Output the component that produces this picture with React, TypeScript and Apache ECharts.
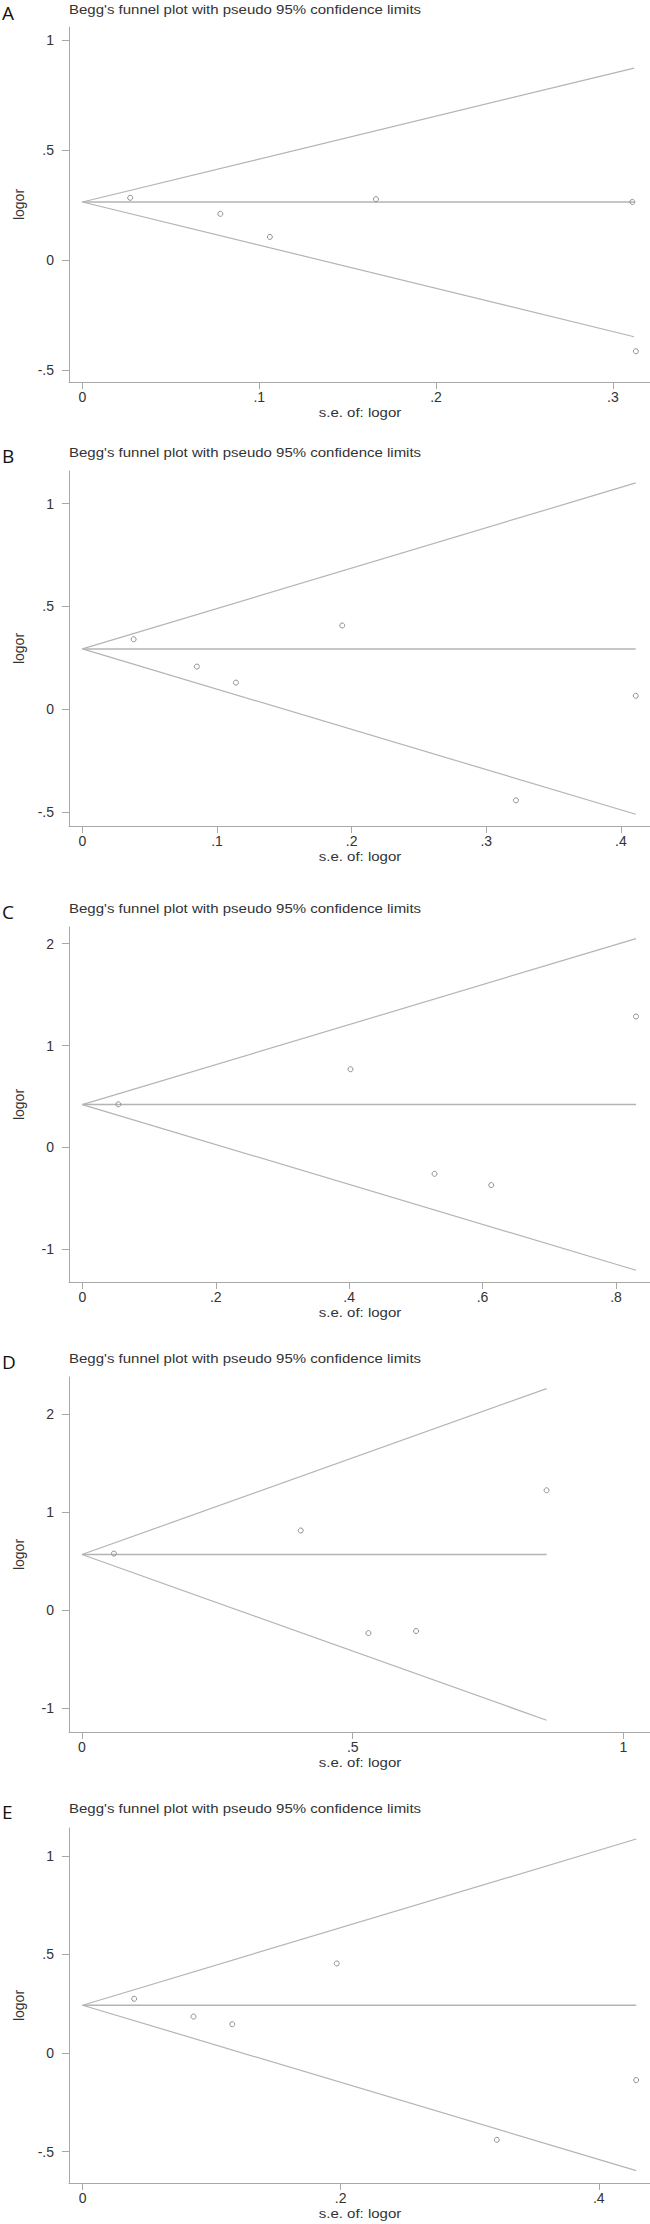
import React, { useEffect, useRef } from "react";
import * as echarts from "echarts";

// ---- Data (5 Begg's funnel plots) ----
const panelLetters = ["A", "B", "C", "D", "E"];
const titleText = "Begg's funnel plot with pseudo 95% confidence limits";
const xAxisTitle = "s.e. of: logor";
const yAxisTitle = "logor";

// study points: standard error and log odds ratio
const seA = [0.027, 0.078, 0.106, 0.166, 0.311, 0.313];
const logorA = [0.283, 0.21, 0.105, 0.277, 0.264, -0.415];
const seB = [0.038, 0.085, 0.114, 0.193, 0.322, 0.411];
const logorB = [0.34, 0.207, 0.129, 0.407, -0.444, 0.065];
const seC = [0.054, 0.402, 0.528, 0.613, 0.83];
const logorC = [0.423, 0.767, -0.259, -0.37, 1.285];
const seD = [0.059, 0.404, 0.529, 0.617, 0.858];
const logorD = [0.577, 0.813, -0.236, -0.215, 1.224];
const seE = [0.04, 0.086, 0.116, 0.197, 0.321, 0.429];
const logorE = [0.275, 0.185, 0.146, 0.454, -0.44, -0.137];

// pooled estimate and pseudo 95% limit ends (at the largest s.e.)
const pooled = [0.264, 0.293, 0.42, 0.567, 0.2425];
const limitSe = [0.312, 0.411, 0.83, 0.858, 0.429];
const upperEnd = [0.873, 1.101, 2.049, 2.264, 1.085];
const lowerEnd = [-0.349, -0.512, -1.206, -1.128, -0.596];

// tick values
const xTicksA = [0, 0.1, 0.2, 0.3];
const xTicksB = [0, 0.1, 0.2, 0.3, 0.4];
const xTicksC = [0, 0.2, 0.4, 0.6, 0.8];
const xTicksD = [0, 0.5, 1];
const xTicksE = [0, 0.2, 0.4];
const yTicksA = [-0.5, 0, 0.5, 1];
const yTicksB = [-0.5, 0, 0.5, 1];
const yTicksC = [-1, 0, 1, 2];
const yTicksD = [-1, 0, 1, 2];
const yTicksE = [-0.5, 0, 0.5, 1];

// axis extents (plot region incl. Stata margins)
const xMins = [-0.0076, -0.01, -0.02, -0.024, -0.0105];
const xMaxs = [0.321, 0.4216, 0.851, 1.049, 0.4397];
const yMins = [-0.555, -0.569, -1.321, -1.248, -0.659];
const yMaxs = [1.06, 1.159, 2.163, 2.383, 1.141];

const seAll = [seA, seB, seC, seD, seE];
const logorAll = [logorA, logorB, logorC, logorD, logorE];
const xTicksAll = [xTicksA, xTicksB, xTicksC, xTicksD, xTicksE];
const yTicksAll = [yTicksA, yTicksB, yTicksC, yTicksD, yTicksE];

// layout
const gridTops = [27, 471, 927, 1377, 1828];
const gridHeight = 355;
const titleYs = [10, 453, 909, 1359, 1809];

const LINE = "#b4b4b4";
const AXIS = "#a8a8a8";
const TEXT = "#333333";
const FONT = "Liberation Sans, Arial, sans-serif";

function fmt(v: number): string {
  if (v === 0) return "0";
  const a = Math.abs(v);
  let s = String(Math.round(a * 1000) / 1000);
  if (s.startsWith("0.")) s = s.slice(1);
  return (v < 0 ? "-" : "") + s;
}

export default function App() {
  const ref = useRef<HTMLDivElement>(null);
  useEffect(() => {
    document.body.style.margin = "0";
    if (!ref.current) return;
    const chart = echarts.init(ref.current, undefined, { renderer: "svg" });

    const grids: any[] = [];
    const xAxes: any[] = [];
    const yAxes: any[] = [];
    const series: any[] = [];
    const graphics: any[] = [];

    for (let i = 0; i < 5; i++) {
      grids.push({ left: 69, right: 0, top: gridTops[i], height: gridHeight, containLabel: false });
      xAxes.push({
        type: "value",
        gridIndex: i,
        min: xMins[i],
        max: xMaxs[i],
        axisLine: { show: true, onZero: false, lineStyle: { color: AXIS, width: 1 } },
        axisTick: { show: true, length: 7, customValues: xTicksAll[i], lineStyle: { color: AXIS } },
        axisLabel: {
          show: true,
          customValues: xTicksAll[i],
          formatter: (v: number) => fmt(v),
          color: TEXT,
          fontSize: 14,
          fontFamily: FONT,
          margin: 8,
        },
        splitLine: { show: false },
      });
      yAxes.push({
        type: "value",
        gridIndex: i,
        min: yMins[i],
        max: yMaxs[i],
        name: yAxisTitle,
        nameLocation: "middle",
        nameGap: 43,
        nameTextStyle: { color: TEXT, fontSize: 14, fontFamily: FONT },
        axisLine: { show: true, onZero: false, lineStyle: { color: AXIS, width: 1 } },
        axisTick: { show: true, length: 7, customValues: yTicksAll[i], lineStyle: { color: AXIS } },
        axisLabel: {
          show: true,
          customValues: yTicksAll[i],
          formatter: (v: number) => fmt(v),
          color: TEXT,
          fontSize: 14,
          fontFamily: FONT,
          margin: 15,
        },
        splitLine: { show: false },
      });

      const lineStyle = { color: LINE, width: 1.2 };
      series.push({
        type: "line",
        xAxisIndex: i,
        yAxisIndex: i,
        data: [[0, pooled[i]], [limitSe[i], upperEnd[i]]],
        symbol: "none",
        lineStyle,
        silent: true,
        z: 2,
      });
      series.push({
        type: "line",
        xAxisIndex: i,
        yAxisIndex: i,
        data: [[0, pooled[i]], [limitSe[i], lowerEnd[i]]],
        symbol: "none",
        lineStyle,
        silent: true,
        z: 2,
      });
      series.push({
        type: "line",
        xAxisIndex: i,
        yAxisIndex: i,
        data: [[0, pooled[i]], [limitSe[i], pooled[i]]],
        symbol: "none",
        lineStyle: { color: LINE, width: 1.5 },
        silent: true,
        z: 2,
      });
      series.push({
        type: "scatter",
        xAxisIndex: i,
        yAxisIndex: i,
        data: seAll[i].map((s, k) => [s, logorAll[i][k]]),
        symbol: "circle",
        symbolSize: 5,
        itemStyle: { color: "rgba(255,255,255,0)", borderColor: "#8f8f8f", borderWidth: 1, opacity: 1 },
        clip: false,
        silent: true,
        z: 5,
      });

      graphics.push({
        type: "text",
        x: 2,
        y: titleYs[i] - 7,
        style: {
          text: panelLetters[i],
          fontSize: 19,
          fontFamily: "Open Sans, sans-serif",
          fill: "#111",
          verticalAlign: "top",
        },
      });
      graphics.push({
        type: "text",
        x: 69,
        y: titleYs[i],
        scaleX: 1.25,
        style: {
          text: titleText,
          fontSize: 12,
          fontFamily: FONT,
          fill: TEXT,
          verticalAlign: "middle",
        },
      });
      graphics.push({
        type: "text",
        x: 360,
        y: gridTops[i] + gridHeight + 31,
        scaleX: 1.25,
        style: {
          text: xAxisTitle,
          fontSize: 12,
          fontFamily: FONT,
          fill: TEXT,
          align: "center",
          verticalAlign: "middle",
        },
      });
    }

    chart.setOption({
      animation: false,
      backgroundColor: "#ffffff",
      grid: grids,
      xAxis: xAxes,
      yAxis: yAxes,
      series,
      graphic: graphics,
    });
    return () => chart.dispose();
  }, []);
  return <div ref={ref} style={{ width: 650, height: 2224 }} />;
}
